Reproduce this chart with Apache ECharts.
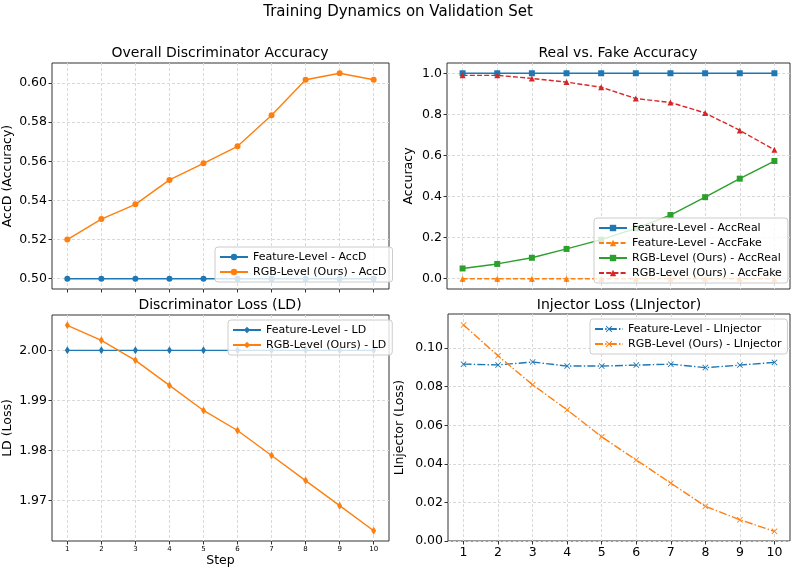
<!DOCTYPE html>
<html>
<head>
<meta charset="utf-8">
<script src="https://cdn.jsdelivr.net/npm/echarts@6/dist/echarts.min.js"></script>
<style>
  html, body { margin: 0; padding: 0; background: #fff; }
  #chart { width: 797px; height: 574px; }
</style>
</head>
<body>
<div id="chart"></div>
<script>
// values
const steps = [1, 2, 3, 4, 5, 6, 7, 8, 9, 10];

const accDFeature = [0.5, 0.5, 0.5, 0.5, 0.5, 0.5, 0.5, 0.5, 0.5, 0.5];
const accDRgb = [0.520, 0.5305, 0.538, 0.5505, 0.559, 0.5677, 0.5835, 0.6017, 0.605, 0.6017];

const accRealFeature = [1, 1, 1, 1, 1, 1, 1, 1, 1, 1];
const accFakeFeature = [0, 0, 0, 0, 0, 0, 0, 0, 0, 0];
const accRealRgb = [0.050, 0.072, 0.102, 0.145, 0.190, 0.245, 0.310, 0.397, 0.487, 0.573];
const accFakeRgb = [0.990, 0.990, 0.975, 0.957, 0.932, 0.877, 0.858, 0.807, 0.722, 0.628];

const ldFeature = [2.0, 2.0, 2.0, 2.0, 2.0, 2.0, 2.0, 2.0, 2.0, 2.0];
const ldRgb = [2.005, 2.002, 1.998, 1.993, 1.988, 1.984, 1.979, 1.974, 1.969, 1.964];

const linjFeature = [0.0917, 0.0913, 0.0928, 0.0907, 0.0907, 0.0912, 0.0917, 0.0899, 0.0912, 0.0926];
const linjRgb = [0.112, 0.096, 0.081, 0.068, 0.054, 0.042, 0.030, 0.018, 0.011, 0.005];

const accDTicks = [0.50, 0.52, 0.54, 0.56, 0.58, 0.60];
const accTicks = [0.0, 0.2, 0.4, 0.6, 0.8, 1.0];
const ldTicks = [1.97, 1.98, 1.99, 2.00];
const linjTicks = [0.00, 0.02, 0.04, 0.06, 0.08, 0.10];

const FONT = 'DejaVu Sans';
const BLUE = '#1f77b4', ORANGE = '#ff7f0e', GREEN = '#2ca02c', RED = '#d62728';
const xPath = 'path://M0,1L1,0L5,4L9,0L10,1L6,5L10,9L9,10L5,6L1,10L0,9L4,5Z';

function xAxisFor(gi, showLabels, labelSize, name) {
  return {
    type: 'value', gridIndex: gi, min: 0.55, max: 10.45,
    name: name || '', nameLocation: 'middle', nameGap: 13,
    nameTextStyle: { fontFamily: FONT, fontSize: 12.5, color: '#000' },
    axisLine: { show: false },
    axisTick: { show: true, length: 3.5, customValues: steps, lineStyle: { color: '#333' } },
    axisLabel: { show: showLabels, customValues: steps, fontFamily: FONT, fontSize: labelSize, color: '#000', margin: 5 },
    splitLine: { show: true, lineStyle: { color: '#d9d9d9', type: [3, 2] } }
  };
}

function yAxisFor(gi, name, ticks, min, max, digits, gap) {
  return {
    type: 'value', gridIndex: gi, min: min, max: max,
    name: name, nameLocation: 'middle', nameGap: gap,
    nameTextStyle: { fontFamily: FONT, fontSize: 12.5, color: '#000' },
    axisLine: { show: false },
    axisTick: { show: true, length: 3.5, customValues: ticks, lineStyle: { color: '#333' } },
    axisLabel: { customValues: ticks, formatter: v => v.toFixed(digits), fontFamily: FONT, fontSize: 12.5, color: '#000', margin: 5 },
    splitLine: { show: true, lineStyle: { color: '#d9d9d9', type: [3, 2] } }
  };
}

function line(name, gi, ys, color, symbol, size, dash) {
  return {
    type: 'line', name: name, xAxisIndex: gi, yAxisIndex: gi,
    data: steps.map((s, i) => [s, ys[i]]),
    symbol: symbol, symbolSize: size, showSymbol: true,
    lineStyle: { color: color, width: 1.4, type: dash || 'solid' },
    itemStyle: { color: color },
    emphasis: { disabled: true },
    animation: false
  };
}

function legendFor(names, left, top) {
  return {
    data: names, orient: 'vertical', left: left, top: top,
    padding: [4, 6, 4, 4], itemGap: 3, itemWidth: 28, itemHeight: 8,
    backgroundColor: 'rgba(255,255,255,0.8)', borderColor: '#cccccc', borderWidth: 1, borderRadius: 3,
    textStyle: { fontFamily: FONT, fontSize: 11, color: '#000', lineHeight: 12 },
    selectedMode: false
  };
}

function titleAt(text, x, y, size) {
  return { text: text, left: x, top: y, textAlign: 'center', padding: 0,
    textStyle: { fontFamily: FONT, fontSize: size, fontWeight: 'normal', color: '#000' } };
}

const gridBox = { show: true, borderColor: '#333', borderWidth: 1, backgroundColor: 'transparent', containLabel: false };

const option = {
  backgroundColor: '#fff',
  animation: false,
  title: [
    titleAt('Training Dynamics on Validation Set', 398, 5, 15),
    titleAt('Overall Discriminator Accuracy', 220, 46, 14),
    titleAt('Real vs. Fake Accuracy', 618, 46, 14),
    titleAt('Discriminator Loss (LD)', 220, 298, 14),
    titleAt('Injector Loss (LInjector)', 619, 298, 14)
  ],
  grid: [
    Object.assign({ left: 51, top: 63, width: 338, height: 226 }, gridBox),
    Object.assign({ left: 447, top: 63, width: 343, height: 226 }, gridBox),
    Object.assign({ left: 51, top: 315, width: 338, height: 226 }, gridBox),
    Object.assign({ left: 448, top: 314, width: 342, height: 227 }, gridBox)
  ],
  xAxis: [
    xAxisFor(0, false, 12.5),
    xAxisFor(1, false, 12.5),
    xAxisFor(2, true, 7, 'Step'),
    xAxisFor(3, true, 12.5)
  ],
  yAxis: [
    yAxisFor(0, 'AccD (Accuracy)', accDTicks, 0.49475, 0.61025, 2, 38),
    yAxisFor(1, 'Accuracy', accTicks, -0.05, 1.05, 1, 32),
    yAxisFor(2, 'LD (Loss)', ldTicks, 1.96195, 2.00705, 2, 38),
    yAxisFor(3, 'LInjector (Loss)', linjTicks, 0, 0.1177, 2, 42)
  ],
  legend: [
    legendFor(['Feature-Level - AccD', 'RGB-Level (Ours) - AccD'], 215, 247),
    legendFor(['Feature-Level - AccReal', 'Feature-Level - AccFake', 'RGB-Level (Ours) - AccReal', 'RGB-Level (Ours) - AccFake'], 594, 218),
    legendFor(['Feature-Level - LD', 'RGB-Level (Ours) - LD'], 228, 320),
    legendFor(['Feature-Level - LInjector', 'RGB-Level (Ours) - LInjector'], 590, 319)
  ],
  series: [
    line('Feature-Level - AccD', 0, accDFeature, BLUE, 'circle', 6),
    line('RGB-Level (Ours) - AccD', 0, accDRgb, ORANGE, 'circle', 6),
    line('Feature-Level - AccReal', 1, accRealFeature, BLUE, 'rect', 6),
    line('Feature-Level - AccFake', 1, accFakeFeature, ORANGE, 'triangle', 6, [5, 2.2]),
    line('RGB-Level (Ours) - AccReal', 1, accRealRgb, GREEN, 'rect', 6),
    line('RGB-Level (Ours) - AccFake', 1, accFakeRgb, RED, 'triangle', 6, [5, 2.2]),
    line('Feature-Level - LD', 2, ldFeature, BLUE, 'diamond', [5, 8]),
    line('RGB-Level (Ours) - LD', 2, ldRgb, ORANGE, 'diamond', [5, 8]),
    line('Feature-Level - LInjector', 3, linjFeature, BLUE, xPath, 6, [8, 2.2, 1.4, 2.2]),
    line('RGB-Level (Ours) - LInjector', 3, linjRgb, ORANGE, xPath, 6, [8, 2.2, 1.4, 2.2])
  ]
};

echarts.init(document.getElementById('chart')).setOption(option);
</script>
</body>
</html>
